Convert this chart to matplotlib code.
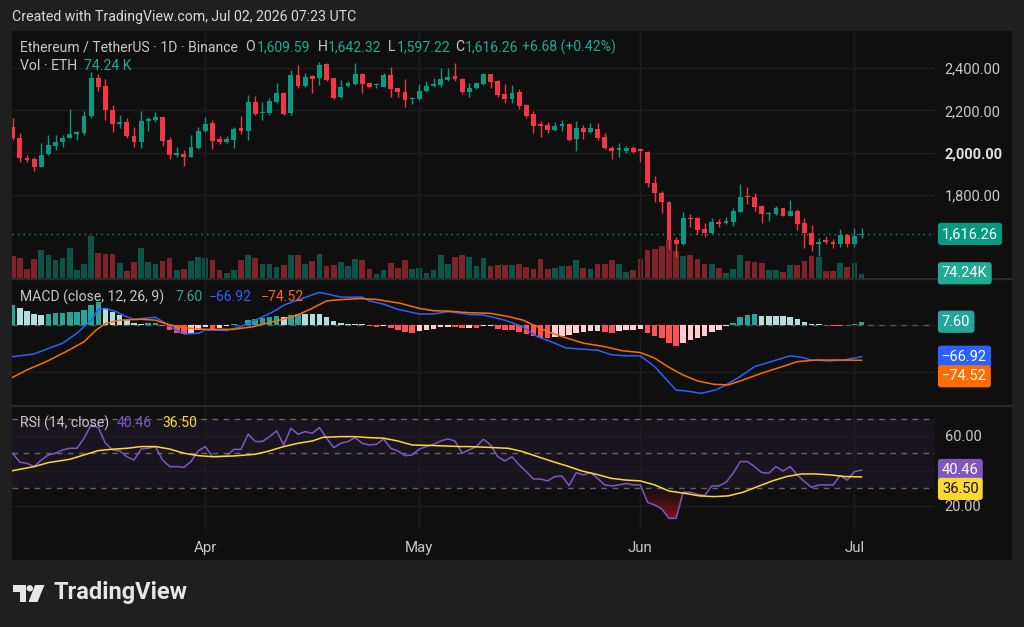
import datetime as dt
import numpy as np
import matplotlib
matplotlib.use("Agg")
import matplotlib.pyplot as plt
import matplotlib.dates as mdates
from matplotlib.colors import LinearSegmentedColormap
from matplotlib.patches import Rectangle, Polygon, Circle, PathPatch
from matplotlib.transforms import blended_transform_factory

plt.rcParams['font.family'] = ['Roboto', 'DejaVu Sans']

# ETH/USDT 1D (Binance)
start = dt.datetime(2026, 3, 5)

opens = [2123, 2071, 1976, 1970, 1934, 1992, 2031, 2052, 2071, 2088,
         2094, 2173, 2351, 2315, 2202, 2136, 2146, 2079, 2049, 2150,
         2156, 2167, 2060, 1989, 1992, 1978, 2022, 2104, 2139, 2063,
         2052, 2060, 2115, 2104, 2241, 2186, 2186, 2241, 2284, 2186,
         2367, 2315, 2362, 2351, 2419, 2351, 2262, 2315, 2324, 2372,
         2328, 2318, 2312, 2367, 2304, 2288, 2254, 2254, 2293, 2315,
         2320, 2343, 2362, 2348, 2285, 2304, 2324, 2370, 2339, 2276,
         2254, 2285, 2225, 2181, 2134, 2131, 2107, 2128, 2134, 2063,
         2118, 2099, 2112, 2073, 2024, 2013, 2010, 2021, 2016, 2005,
         1858, 1811, 1769, 1588, 1569, 1693, 1690, 1640, 1619, 1674,
         1666, 1674, 1721, 1795, 1792, 1748, 1710, 1710, 1737, 1702,
         1726, 1666, 1619, 1567, 1588, 1580, 1569, 1611, 1569, 1609.59]
highs = [2162, 2091, 1989, 1981, 2047, 2084, 2084, 2084, 2205, 2102,
         2198, 2383, 2372, 2347, 2225, 2178, 2162, 2123, 2197, 2170,
         2194, 2170, 2073, 2028, 2013, 2082, 2123, 2167, 2155, 2079,
         2079, 2123, 2173, 2273, 2268, 2241, 2260, 2328, 2288, 2391,
         2414, 2378, 2367, 2430, 2425, 2353, 2343, 2340, 2422, 2378,
         2331, 2328, 2375, 2406, 2307, 2347, 2265, 2324, 2340, 2351,
         2398, 2398, 2422, 2351, 2328, 2331, 2378, 2372, 2341, 2323,
         2320, 2299, 2228, 2197, 2150, 2147, 2147, 2154, 2139, 2150,
         2131, 2139, 2142, 2095, 2032, 2044, 2032, 2032, 2021, 2007,
         1890, 1819, 1772, 1600, 1721, 1710, 1695, 1666, 1690, 1687,
         1695, 1737, 1850, 1839, 1811, 1753, 1721, 1748, 1738, 1776,
         1732, 1690, 1658, 1595, 1606, 1591, 1638, 1614, 1643, 1642.32]
lows = [2060, 1958, 1958, 1913, 1931, 1989, 2013, 2028, 2068, 2060,
        2084, 2162, 2293, 2154, 2099, 2115, 2068, 2025, 2021, 2102,
        2146, 2032, 1969, 1981, 1937, 1978, 2019, 2099, 2016, 2041,
        2047, 2021, 2088, 2060, 2178, 2154, 2178, 2233, 2178, 2178,
        2304, 2312, 2284, 2320, 2340, 2252, 2257, 2312, 2320, 2284,
        2304, 2304, 2309, 2265, 2262, 2217, 2230, 2249, 2288, 2309,
        2309, 2340, 2340, 2277, 2265, 2299, 2320, 2304, 2265, 2233,
        2236, 2205, 2162, 2091, 2076, 2095, 2102, 2102, 2055, 2010,
        2063, 2091, 2060, 2016, 1969, 1978, 2000, 1997, 1958, 1839,
        1769, 1717, 1545, 1509, 1564, 1647, 1616, 1603, 1616, 1647,
        1663, 1654, 1718, 1758, 1726, 1669, 1679, 1706, 1701, 1701,
        1635, 1551, 1535, 1514, 1569, 1548, 1556, 1553, 1553, 1597.22]
closes = [2068, 1973, 1965, 1934, 1989, 2035, 2052, 2071, 2088, 2099,
          2175, 2351, 2312, 2202, 2134, 2146, 2079, 2049, 2150, 2159,
          2167, 2057, 1989, 1997, 1981, 2025, 2104, 2136, 2057, 2052,
          2065, 2110, 2104, 2238, 2183, 2194, 2246, 2284, 2183, 2367,
          2315, 2359, 2347, 2414, 2343, 2257, 2312, 2328, 2372, 2324,
          2312, 2323, 2367, 2299, 2288, 2249, 2257, 2293, 2315, 2323,
          2347, 2359, 2347, 2285, 2304, 2328, 2372, 2335, 2273, 2254,
          2284, 2221, 2175, 2128, 2128, 2107, 2128, 2134, 2060, 2118,
          2099, 2115, 2071, 2021, 2008, 2021, 2021, 2005, 2010, 1855,
          1811, 1769, 1588, 1569, 1690, 1685, 1635, 1622, 1674, 1663,
          1679, 1726, 1792, 1789, 1745, 1710, 1717, 1740, 1702, 1726,
          1663, 1619, 1564, 1577, 1580, 1569, 1611, 1569, 1608, 1616.26]
volumes_k = [433, 400, 187, 387, 553, 467, 353, 393, 600, 153,
             287, 847, 500, 487, 487, 300, 147, 320, 600, 320,
             280, 347, 400, 167, 187, 347, 413, 393, 353, 150,
             100, 167, 360, 467, 407, 280, 280, 220, 267, 453,
             467, 280, 333, 487, 233, 267, 313, 233, 380, 353,
             187, 80, 167, 300, 200, 353, 180, 200, 100, 153,
             453, 287, 420, 467, 420, 233, 400, 247, 253, 267,
             267, 287, 213, 180, 387, 187, 200, 247, 233, 353,
             200, 180, 287, 287, 367, 287, 120, 167, 380, 553,
             580, 633, 753, 533, 440, 467, 373, 287, 273, 200,
             100, 173, 453, 340, 320, 307, 167, 167, 120, 253,
             253, 340, 433, 420, 140, 140, 300, 220, 300, 74.24]

macd_hist = [44, 37, 30, 24, 23, 25, 26, 27, 28, 29,
             33, 44, 49, 37, 28, 21, 11, 4, 3, 4,
             5, -2, -9, -16, -18, -17, -9, -4, -7, -6,
             -2, 2, 1, 11, 13, 16, 18, 19, 18, 23,
             25, 24, 24, 24, 18, 9, 5, 2, 2, 2,
             -2, -4, -2, -6, -9, -15, -16, -13, -9, -7,
             -4, -3, -4, -6, -5, -5, -2, -1, -8, -11,
             -11, -15, -19, -22, -27, -27, -24, -22, -21, -17,
             -15, -13, -12, -15, -16, -13, -10, -9, -8, -17,
             -22, -28, -37, -45, -38, -31, -26, -22, -15, -10,
             -1, 4, 17, 23, 24, 20, 20, 20, 20, 18,
             13, 8, 3, 2, 0, -1, -1, 1, 3, 7.6]
macd_idx = [0, 3, 7, 9, 11, 12, 13, 14.5, 16, 17, 20, 21, 22.5, 24, 26, 27, 30, 32,
            34, 36, 37, 38, 40, 42, 43, 44, 46, 49, 50, 52, 54, 57, 59, 61, 63, 64,
            66, 69, 71.5, 73.5, 75.5, 77.5, 79, 82, 84, 86, 88, 90, 91.5, 93, 94.5,
            96.5, 98.5, 100, 102, 104, 106, 107.5, 109, 110.5, 112, 114.5, 116.5, 119]
macd_line = [-66.8, -61, -38, -17, 11, 34, 36, 29, 18, 13, 17, 8, -6.5, -18.5, -17, -10, -11, -3,
             11, 25, 33, 43, 54, 65, 70, 67, 60, 60, 52, 45, 34, 24, 24, 29, 25.5, 23,
             22, 11, -3, -24, -35, -48, -50, -53, -63, -65, -65, -88, -113, -138, -140,
             -145, -138, -127, -109, -88, -79, -72, -65, -68, -74, -76, -74, -66.92]
signal_idx = [0, 2, 4.7, 7.5, 10, 11.7, 13, 15, 18, 20, 21, 23, 25, 27, 31, 33.7, 36.5,
              39.3, 41.7, 44, 46.3, 48.7, 51, 54.3, 57, 59, 61.3, 63.8, 67, 69.5, 71.5,
              73, 75, 77, 80, 83, 85.4, 88, 90, 92, 94, 96, 98.3, 100.3, 102.4, 105,
              107.5, 110, 112.7, 115.7, 119]
signal_line = [-110.8, -95, -77.5, -56, -35, -10, 4, 11, 12.7, 11, 5.6, -3, -6.5, -8.6, -8.6, -3, 8,
               18, 34, 52, 55, 57, 55, 47, 36, 31, 30, 27, 25.5, 18.4, 11.3,
               0.6, -13.6, -24, -38, -45.5, -54, -58, -70, -89.5, -106, -118.6, -125.7, -127, -116.5, -102,
               -90, -77.5, -74, -74, -74.52]

rsi_vals = [50.1, 44.9, 44.3, 42.4, 46.2, 49.1, 50.1, 52, 52.9, 52.9,
            58.7, 66.3, 64.8, 55.8, 52, 51.4, 48.1, 46.2, 52.5, 52.9,
            53.9, 46.2, 42.4, 42.4, 42, 45.3, 51.4, 53.9, 48.1, 48.1,
            48.5, 52.3, 52.3, 61, 56.8, 56.8, 59.6, 62.9, 54.8, 64.4,
            61, 62.5, 61.5, 64.8, 58.7, 53.3, 55.8, 56.8, 59, 55.8,
            54.8, 55.2, 58.3, 52.9, 51.4, 48.7, 49.1, 52.5, 53.9, 55.2,
            57.1, 58.3, 57.1, 50.1, 52, 53.9, 58.1, 54.8, 48.1, 45.7,
            48.1, 43.4, 39.5, 35.3, 35.3, 34.2, 36.7, 37, 31.5, 39,
            37.6, 39, 35.7, 31.9, 31.3, 31.9, 32.8, 31.9, 31.9, 21.9,
            20.4, 18.1, 12.7, 12.7, 27.7, 27.7, 26.5, 25.8, 31.3, 31.3,
            33.4, 38.6, 45.3, 45.3, 42.4, 39, 38.6, 42.4, 39.9, 42.4,
            37.6, 33.8, 30.5, 31.9, 31.9, 31.9, 37.2, 34.7, 39.5, 40.46]
rsi_ma_idx = [0, 3, 5, 8, 10, 12, 14, 16, 18, 20, 22, 24, 26, 28, 31, 34, 35.6, 38, 40, 42,
              43.5, 46, 48, 50, 52, 54, 56, 59, 62.7, 64, 66.4, 69.5, 71.5, 73.6, 75.7,
              77.7, 79.8, 81.8, 83.9, 85.9, 88, 90, 92, 94.2, 96.3, 98.3, 100.3, 102.4,
              104.4, 106.5, 108.5, 110.6, 112.6, 114.7, 116.7, 119]
rsi_ma = [40.1, 42.4, 44.7, 46.6, 49.1, 51.6, 52.4, 52.9, 53.9, 53.9, 52.5, 50.1, 48.7, 48.1, 48.5,
          49.5, 51, 53.9, 55.8, 57.1, 59.2, 59.6, 59.6, 59, 58.7, 57.1, 54.8, 54.5, 53.9, 53.9,
          53.5, 52.9, 51, 48.1, 45.3, 42.8, 39.9, 38, 35.7, 34.7, 34.2, 31.9, 28.4, 27.1, 25.6,
          25.2, 25.6, 27.7, 30.9, 34.2, 36.7, 38.2, 38.2, 37.6, 36.7, 36.5]

price_ticks = [1800, 2000, 2200, 2400]
rsi_ticks = [20, 40, 60]

# colours
UP, DOWN = '#089981', '#f23645'
TXT = '#c8c8c8'
GRID = '#1d1d1d'
BG_OUT, BG_PANEL = '#1f1f1f', '#0f0f0f'
AXFS = 10.5   # axis label size

d0 = mdates.date2num(start)
n = len(closes)
x = d0 + np.arange(n)
o, h, l, c = map(np.array, (opens, highs, lows, closes))
up = c >= o
cols = np.where(up, UP, DOWN)

W, H = 1024, 627
fig = plt.figure(figsize=(W / 100, H / 100), dpi=100, facecolor=BG_OUT)


def fx(px):
    return px / W


def fy(py):
    return 1 - py / H


# background / decoration layer in pixel coords
deco = fig.add_axes([0, 0, 1, 1], zorder=0)
deco.set_xlim(0, W)
deco.set_ylim(H, 0)
deco.axis('off')
deco.add_patch(Rectangle((12, 31), 1000, 529, color=BG_PANEL, lw=0))
for sep in (279, 406):
    deco.plot([12, 1012], [sep, sep], color='#2a2a2a', lw=1.6)
# TradingView logo mark
deco.add_patch(Polygon([(13, 585), (25.5, 585), (25.5, 602), (19.5, 602), (19.5, 591.5), (13, 591.5)],
                       color='#e6e6e6', lw=0))
deco.add_patch(Circle((29.8, 588.3), 3.2, color='#e6e6e6', lw=0))
deco.add_patch(Polygon([(35, 585), (44.5, 585), (37.5, 602), (28.5, 602)], color='#e6e6e6', lw=0))
fig.text(fx(54), fy(593), 'TradingView', fontsize=17, fontweight='bold', color='#e6e6e6',
         va='center', ha='left')

L, R = 12, 935
ax = fig.add_axes([fx(L), fy(278), (R - L) / W, (278 - 31) / H], zorder=2)
axm = fig.add_axes([fx(L), fy(405), (R - L) / W, (405 - 280) / H], zorder=2, sharex=ax)
axr = fig.add_axes([fx(L), fy(530), (R - L) / W, (530 - 407) / H], zorder=2, sharex=ax)

# volume (behind candles) on its own scale
axv = ax.twinx()
axv.set_zorder(1)
axv.patch.set_visible(False)
axv.bar(x, volumes_k, width=0.8, color=np.where(up, '#0b5448', '#80222a'), lw=0)
axv.set_ylim(0, 4940)
axv.axis('off')

for a in (ax, axm, axr):
    a.set_facecolor('none')
    for s in a.spines.values():
        s.set_visible(False)
    a.yaxis.tick_right()
    a.tick_params(length=0, labelsize=AXFS, colors=TXT)
    a.tick_params(axis='y', pad=7)
    a.grid(True, color=GRID, lw=1, zorder=0)
    a.set_axisbelow(True)

ax.set_xlim(d0 - 0.1, d0 + 129.3)
ax.xaxis.set_major_locator(mdates.MonthLocator())
ax.xaxis.set_major_formatter(mdates.DateFormatter('%b'))
ax.tick_params(axis='x', labelbottom=False)
axm.tick_params(axis='x', labelbottom=False)
axr.tick_params(axis='x', pad=8, labelsize=10.8)

# candles
ax.vlines(x, l, h, colors=cols, lw=1, zorder=3)
ax.bar(x, np.maximum(np.abs(c - o), 1.6), bottom=np.minimum(o, c), width=0.68, color=cols, lw=0, zorder=4)
ax.axhline(closes[-1], color=UP, lw=1, ls=(0, (1, 3)), zorder=2)
ax.set_ylim(1408, 2574.8)
ax.set_yticks(price_ticks)
ax.set_yticklabels([f'{v:,.2f}' for v in price_ticks])
for t, v in zip(ax.get_yticklabels(), price_ticks):
    if v == 2000:
        t.set_fontweight('bold')
        t.set_color('#e0e0e0')

# MACD
hist = np.array(macd_hist, dtype=float)
prev = np.concatenate([[hist[0] - 1], hist[:-1]])
hcols = np.where(hist >= 0, np.where(prev < hist, '#26a69a', '#b2dfdb'),
                 np.where(prev < hist, '#ffcdd2', '#ff5252'))
axm.axhline(0, color='#555555', lw=1, ls=(0, (4, 4)), zorder=1)
axm.bar(x, hist, width=0.78, color=hcols, lw=0, zorder=2)
axm.plot(d0 + np.array(macd_idx), macd_line, color='#2962ff', lw=1.1, zorder=3)
axm.plot(d0 + np.array(signal_idx), signal_line, color='#ff6d00', lw=1.1, zorder=3)
axm.set_ylim(-169.8, 96.5)
axm.set_yticks([-100, 0])
axm.set_yticklabels(['', ''])

# RSI
rsi = np.array(rsi_vals)
axr.axhspan(30, 70, color='#7e57c2', alpha=0.09, lw=0, zorder=0)
for lev in (70, 50, 30):
    axr.axhline(lev, color='#787b86', lw=1, ls=(0, (4, 4)), alpha=0.8, zorder=1)
fill = axr.fill_between(x, rsi, 30, where=rsi < 30, interpolate=True, color='none', lw=0)
cmap = LinearSegmentedColormap.from_list('os', [(0.62, 0.08, 0.13, 0.95), (0.45, 0.07, 0.1, 0.05)])
grad = np.linspace(0, 1, 256).reshape(-1, 1)
im = axr.imshow(grad, extent=[x[0], x[-1], 10, 30], origin='lower', cmap=cmap, aspect='auto', zorder=2)
clip = PathPatch(fill.get_paths()[0], transform=axr.transData, facecolor='none', edgecolor='none')
axr.add_patch(clip)
im.set_clip_path(clip)
axr.plot(x, rsi, color='#7e57c2', lw=1.1, zorder=3)
axr.plot(d0 + np.array(rsi_ma_idx), rsi_ma, color='#fdd835', lw=1.1, zorder=3)
axr.set_xlim(d0 - 0.1, d0 + 129.3)
axr.set_ylim(6.04, 76.6)
axr.set_yticks(rsi_ticks)
axr.set_yticklabels(['20.00', '', '60.00'])


def tag(a, val, text, fc, tc='white', dy=0):
    tr = blended_transform_factory(a.transAxes, a.transData)
    a.annotate(text, xy=(1, val), xycoords=tr, xytext=(7, -dy), textcoords='offset pixels',
               ha='left', va='center', fontsize=AXFS, color=tc, annotation_clip=False,
               bbox=dict(boxstyle='round,pad=0.28,rounding_size=0.2', fc=fc, ec='none'))


tag(ax, closes[-1], f'{closes[-1]:,.2f}', UP)
tag(axv, volumes_k[-1], f'{volumes_k[-1]:.2f}K', '#22ab94', dy=-1)
tag(axm, macd_hist[-1], f'{macd_hist[-1]:.2f}', '#26a69a')
tag(axm, macd_line[-1], f'\u2212{abs(macd_line[-1]):.2f}', '#2962ff')
tag(axm, signal_line[-1], f'\u2212{abs(signal_line[-1]):.2f}', '#ff6d00', dy=16)
tag(axr, rsi_vals[-1], f'{rsi_vals[-1]:.2f}', '#7e57c2')
tag(axr, rsi_ma[-1], f'{rsi_ma[-1]:.2f}', '#fdd835', tc='#131313', dy=12)

# header and legends
fig.text(fx(12), fy(17), 'Created with TradingView.com, Jul 02, 2026 07:23 UTC',
         fontsize=10.2, color='#d8d8d8', va='center')


def legend(items, ypx):
    for xp, s, col in items:
        fig.text(fx(xp), fy(ypx), s, fontsize=10.1, color=col, va='center', ha='left')


G = '#22ab94'
legend([(20, 'Ethereum / TetherUS \u00b7 1D \u00b7 Binance', TXT),
        (245, 'O', TXT), (257, f'{opens[-1]:,.2f}', G),
        (318, 'H', TXT), (328, f'{highs[-1]:,.2f}', G),
        (388, 'L', TXT), (397, f'{lows[-1]:,.2f}', G),
        (455, 'C', TXT), (465, f'{closes[-1]:,.2f}', G),
        (522, '+6.68 (+0.42%)', G)], 47)
legend([(20, 'Vol \u00b7 ETH', TXT), (84, '74.24 K', G)], 66)
legend([(20, 'MACD (close, 12, 26, 9)', TXT), (176, f'{macd_hist[-1]:.2f}', '#26a69a'),
        (209, f'\u2212{abs(macd_line[-1]):.2f}', '#2962ff'),
        (261, f'\u2212{abs(signal_line[-1]):.2f}', '#ff6d00')], 297)
legend([(20, 'RSI (14, close)', TXT), (117, f'{rsi_vals[-1]:.2f}', '#7e57c2'),
        (162, f'{rsi_ma[-1]:.2f}', '#fdd835')], 423)

fig.savefig('out.png', dpi=100, facecolor=BG_OUT)
